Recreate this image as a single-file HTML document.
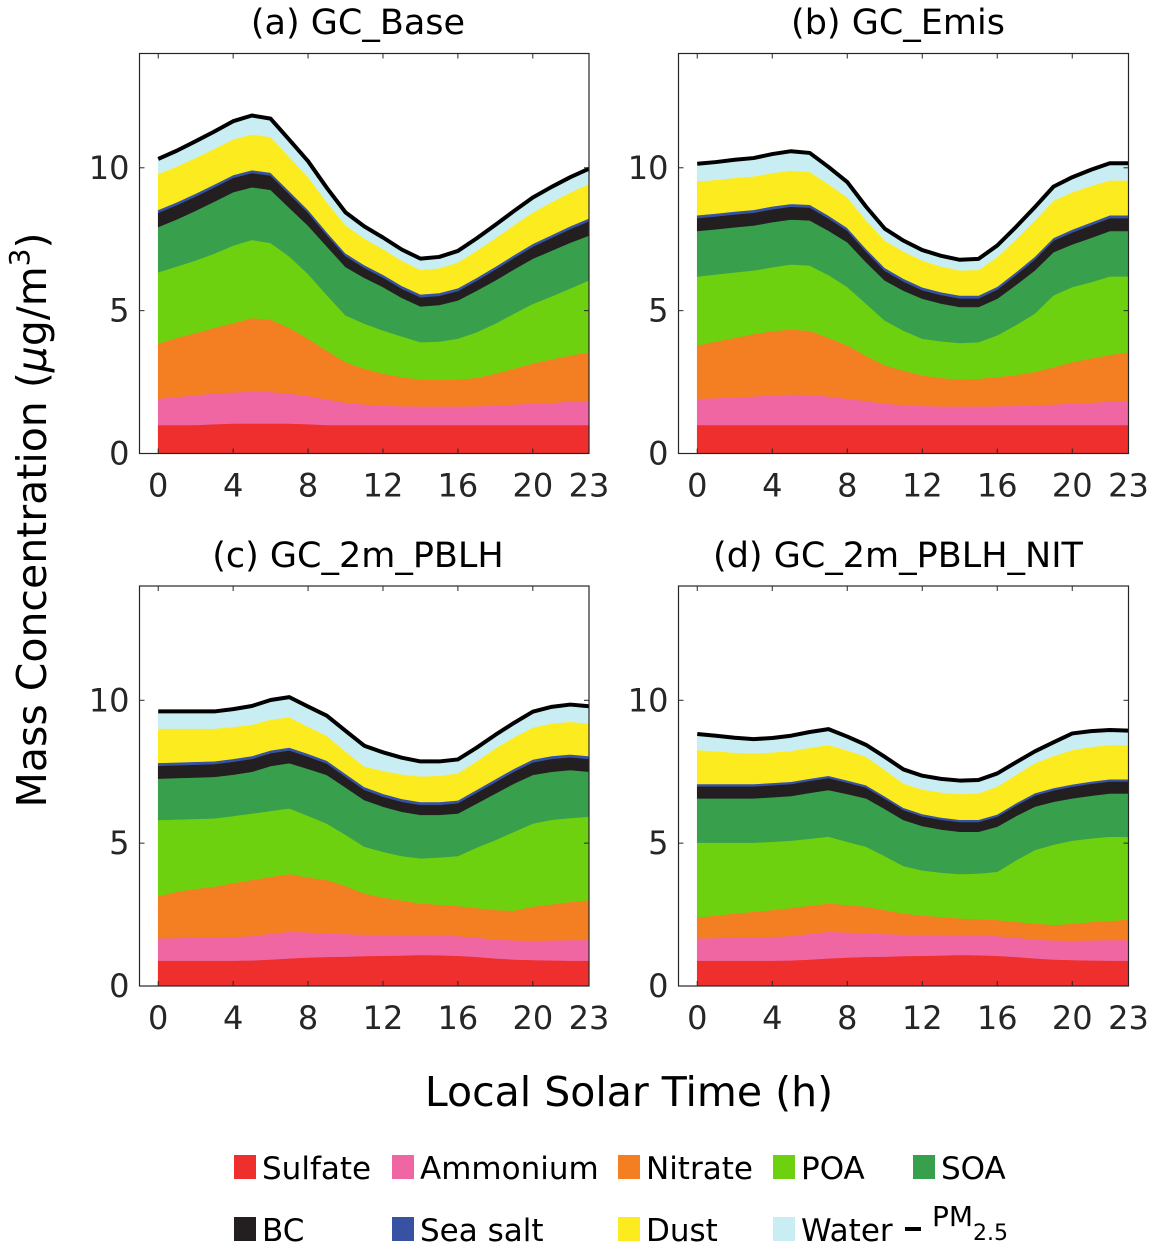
<!DOCTYPE html>
<html><head><meta charset="utf-8">
<style>
html,body{margin:0;padding:0;background:#fff;}
svg{display:block;font-family:"DejaVu Sans","Liberation Sans",sans-serif;}
</style></head>
<body>
<svg id="fig" width="1152" height="1253" viewBox="0 0 1152 1253" xmlns="http://www.w3.org/2000/svg">
<text transform="translate(46,520) rotate(-90)" text-anchor="middle" font-size="41" fill="#000">Mass Concentration (<tspan font-style="italic">μ</tspan>g/m<tspan font-size="28" dy="-17">3</tspan><tspan dy="17">)</tspan></text>
<text x="629" y="1106" text-anchor="middle" font-size="41" fill="#000">Local Solar Time (h)</text>
<g id="legend"></g>
</svg>
<script>
const hours = [0,1,2,3,4,5,6,7,8,9,10,11,12,13,14,15,16,17,18,19,20,21,22,23];
const species = ["Sulfate","Ammonium","Nitrate","POA","SOA","BC","Sea salt","Dust","Water"];
const colors = ["#ee2f2d","#ef66a3","#f47f22","#6ed10f","#38a04d","#231f20","#3752a3","#fcec1f","#c8eef3"];
const xTicks = [0,4,8,12,16,20,23];
const yTicks = [0,5,10];
const panelTitles = ["(a) GC_Base","(b) GC_Emis","(c) GC_2m_PBLH","(d) GC_2m_PBLH_NIT"];

// Panel (a) GC_Base
const aSulfate = [1.0,1.0,1.0,1.03,1.05,1.05,1.05,1.05,1.03,1.0,1.0,1.0,1.0,1.0,1.0,1.0,1.0,1.0,1.0,1.0,1.0,1.0,1.0,1.0];
const aAmmonium = [0.92,0.98,1.05,1.07,1.09,1.12,1.11,1.05,0.99,0.9,0.78,0.72,0.68,0.66,0.65,0.65,0.65,0.66,0.68,0.72,0.75,0.78,0.82,0.86];
const aNitrate = [1.93,2.07,2.17,2.3,2.43,2.57,2.53,2.3,2.0,1.7,1.42,1.25,1.12,1.02,0.94,0.93,0.94,0.99,1.12,1.25,1.4,1.52,1.61,1.69];
const aPOA = [2.5,2.5,2.54,2.6,2.71,2.74,2.68,2.5,2.27,1.95,1.64,1.58,1.51,1.42,1.31,1.34,1.43,1.6,1.75,1.93,2.09,2.2,2.35,2.51];
const aSOA = [1.58,1.65,1.74,1.82,1.87,1.84,1.86,1.7,1.69,1.7,1.69,1.6,1.52,1.35,1.25,1.28,1.34,1.45,1.51,1.55,1.58,1.6,1.6,1.57];
const aBC = [0.5,0.5,0.5,0.5,0.5,0.5,0.5,0.48,0.45,0.4,0.38,0.35,0.33,0.32,0.32,0.32,0.33,0.35,0.38,0.4,0.42,0.45,0.48,0.5];
const aSeaSalt = [0.1,0.1,0.1,0.1,0.1,0.1,0.1,0.1,0.1,0.1,0.1,0.1,0.1,0.1,0.1,0.1,0.1,0.1,0.1,0.1,0.1,0.1,0.1,0.1];
const aDust = [1.26,1.25,1.25,1.25,1.25,1.25,1.25,1.2,1.15,1.05,0.98,0.93,0.9,0.88,0.86,0.87,0.9,0.95,1.0,1.05,1.1,1.15,1.18,1.21];
const aWater = [0.52,0.55,0.58,0.6,0.63,0.66,0.64,0.6,0.55,0.5,0.45,0.42,0.4,0.39,0.39,0.39,0.4,0.43,0.46,0.49,0.52,0.53,0.53,0.53];

// Panel (b) GC_Emis
const bSulfate = [1.0,1.0,1.0,1.0,1.0,1.0,1.0,1.0,1.0,1.0,1.0,1.0,1.0,1.0,1.0,1.0,1.0,1.0,1.0,1.0,1.0,1.0,1.0,1.0];
const bAmmonium = [0.92,0.94,0.97,1.0,1.04,1.07,1.06,1.0,0.92,0.84,0.75,0.7,0.67,0.65,0.65,0.65,0.66,0.67,0.69,0.72,0.75,0.78,0.82,0.86];
const bNitrate = [1.87,1.98,2.08,2.18,2.25,2.27,2.24,2.05,1.87,1.58,1.34,1.2,1.07,1.0,0.94,0.97,1.02,1.08,1.17,1.3,1.45,1.55,1.63,1.69];
const bPOA = [2.41,2.35,2.29,2.23,2.23,2.28,2.28,2.2,2.04,1.83,1.57,1.4,1.28,1.28,1.28,1.28,1.46,1.75,2.04,2.52,2.63,2.67,2.75,2.65];
const bSOA = [1.59,1.58,1.58,1.57,1.58,1.57,1.58,1.55,1.57,1.45,1.4,1.4,1.4,1.32,1.26,1.23,1.28,1.4,1.51,1.51,1.49,1.55,1.59,1.59];
const bBC = [0.45,0.45,0.45,0.45,0.45,0.45,0.45,0.43,0.4,0.37,0.34,0.32,0.3,0.3,0.3,0.3,0.32,0.35,0.38,0.4,0.42,0.44,0.45,0.45];
const bSeaSalt = [0.1,0.1,0.1,0.1,0.1,0.1,0.1,0.1,0.1,0.1,0.1,0.1,0.1,0.1,0.1,0.1,0.1,0.1,0.1,0.1,0.1,0.1,0.1,0.1];
const bDust = [1.19,1.18,1.18,1.17,1.17,1.17,1.15,1.1,1.07,1.0,0.96,0.95,0.94,0.9,0.88,0.9,1.04,1.15,1.27,1.3,1.31,1.28,1.22,1.22];
const bWater = [0.61,0.62,0.63,0.64,0.66,0.67,0.66,0.6,0.53,0.47,0.41,0.38,0.36,0.37,0.37,0.38,0.4,0.43,0.46,0.49,0.52,0.56,0.6,0.6];

// Panel (c) GC_2m_PBLH
const cSulfate = [0.89,0.89,0.89,0.89,0.89,0.9,0.93,0.97,1.0,1.02,1.03,1.05,1.06,1.07,1.09,1.08,1.06,1.02,0.97,0.93,0.91,0.9,0.89,0.89];
const cAmmonium = [0.78,0.79,0.81,0.82,0.83,0.85,0.9,0.93,0.88,0.83,0.79,0.75,0.74,0.72,0.7,0.69,0.69,0.68,0.66,0.67,0.68,0.7,0.72,0.72];
const cNitrate = [1.48,1.62,1.7,1.77,1.88,1.96,1.99,2.02,1.92,1.86,1.68,1.44,1.3,1.21,1.1,1.08,1.05,1.03,1.03,1.04,1.19,1.26,1.33,1.4];
const cPOA = [2.66,2.53,2.45,2.39,2.35,2.33,2.31,2.3,2.16,1.98,1.8,1.64,1.6,1.55,1.58,1.65,1.75,2.12,2.45,2.76,2.91,2.96,2.94,2.92];
const cSOA = [1.45,1.45,1.45,1.45,1.45,1.46,1.57,1.58,1.64,1.7,1.65,1.63,1.58,1.55,1.52,1.49,1.49,1.54,1.63,1.69,1.7,1.68,1.68,1.57];
const cBC = [0.45,0.45,0.45,0.45,0.45,0.45,0.45,0.45,0.43,0.4,0.38,0.36,0.35,0.35,0.35,0.35,0.36,0.38,0.4,0.42,0.44,0.45,0.45,0.45];
const cSeaSalt = [0.1,0.1,0.1,0.1,0.1,0.1,0.1,0.1,0.1,0.1,0.1,0.1,0.1,0.1,0.1,0.1,0.1,0.1,0.1,0.1,0.1,0.1,0.1,0.1];
const cDust = [1.2,1.18,1.16,1.14,1.12,1.1,1.08,1.06,0.95,0.87,0.78,0.72,0.8,0.86,0.9,0.92,0.95,1.0,1.08,1.1,1.12,1.14,1.14,1.14];
const cWater = [0.6,0.6,0.6,0.6,0.62,0.65,0.68,0.7,0.7,0.7,0.72,0.72,0.65,0.58,0.52,0.5,0.48,0.47,0.47,0.5,0.55,0.58,0.6,0.6];

// Panel (d) GC_2m_PBLH_NIT
const dSulfate = [0.89,0.89,0.89,0.89,0.89,0.9,0.93,0.97,1.0,1.02,1.03,1.05,1.06,1.07,1.09,1.08,1.06,1.02,0.97,0.93,0.91,0.9,0.89,0.89];
const dAmmonium = [0.78,0.79,0.81,0.82,0.83,0.85,0.9,0.93,0.88,0.83,0.79,0.75,0.74,0.72,0.7,0.69,0.69,0.68,0.66,0.67,0.68,0.7,0.72,0.72];
const dNitrate = [0.73,0.79,0.84,0.89,0.94,0.98,0.99,0.99,0.96,0.93,0.84,0.74,0.67,0.63,0.58,0.57,0.56,0.55,0.56,0.54,0.59,0.64,0.67,0.72];
const dPOA = [2.62,2.55,2.48,2.42,2.39,2.36,2.34,2.34,2.21,2.1,1.89,1.66,1.58,1.55,1.55,1.6,1.69,2.15,2.57,2.81,2.91,2.93,2.95,2.89];
const dSOA = [1.55,1.55,1.55,1.55,1.56,1.56,1.6,1.63,1.67,1.69,1.65,1.61,1.55,1.51,1.48,1.46,1.58,1.55,1.52,1.5,1.48,1.49,1.51,1.52];
const dBC = [0.42,0.42,0.42,0.42,0.42,0.42,0.42,0.42,0.4,0.38,0.36,0.35,0.34,0.34,0.34,0.34,0.35,0.37,0.39,0.4,0.41,0.42,0.42,0.42];
const dSeaSalt = [0.08,0.08,0.08,0.08,0.08,0.08,0.08,0.08,0.08,0.08,0.08,0.08,0.08,0.08,0.08,0.08,0.08,0.08,0.08,0.08,0.08,0.08,0.08,0.08];
const dDust = [1.19,1.15,1.1,1.07,1.07,1.08,1.08,1.08,1.05,1.0,0.93,0.85,0.86,0.88,0.9,0.93,0.97,1.0,1.05,1.12,1.2,1.21,1.2,1.2];
const dWater = [0.56,0.54,0.52,0.5,0.5,0.53,0.55,0.55,0.48,0.41,0.45,0.49,0.48,0.47,0.47,0.46,0.46,0.43,0.41,0.48,0.58,0.55,0.52,0.5];

const panelData = [
  [aSulfate,aAmmonium,aNitrate,aPOA,aSOA,aBC,aSeaSalt,aDust,aWater],
  [bSulfate,bAmmonium,bNitrate,bPOA,bSOA,bBC,bSeaSalt,bDust,bWater],
  [cSulfate,cAmmonium,cNitrate,cPOA,cSOA,cBC,cSeaSalt,cDust,cWater],
  [dSulfate,dAmmonium,dNitrate,dPOA,dSOA,dBC,dSeaSalt,dDust,dWater]
];

const NS = "http://www.w3.org/2000/svg";
const svg = document.getElementById("fig");
function mk(tag, attrs, parent){
  const e = document.createElementNS(NS, tag);
  for (const k in attrs) e.setAttribute(k, attrs[k]);
  (parent||svg).appendChild(e);
  return e;
}
const boxes = [
  {L:139.5,R:589,T:53.5,B:453.5,cx:358,ty:34},
  {L:678.5,R:1128.5,T:53.5,B:453.5,cx:898,ty:34},
  {L:139.5,R:589,T:586,B:986,cx:358,ty:567},
  {L:678.5,R:1128.5,T:586,B:986,cx:898,ty:567}
];
const XMIN=-1, XMAX=23, YMIN=0, YMAX=14;

panelData.forEach((series, p) => {
  const bx = boxes[p];
  const xs = v => bx.L + (v - XMIN) / (XMAX - XMIN) * (bx.R - bx.L);
  const ys = v => bx.B - (v - YMIN) / (YMAX - YMIN) * (bx.B - bx.T);
  const g = mk("g", {});
  
  
  const title = mk("text", {x:bx.cx, y:bx.ty, "text-anchor":"middle", "font-size":"35", fill:"#000"}, g);
  title.textContent = panelTitles[p];
  
  
  let base = hours.map(() => 0);
  series.forEach((vals, si) => {
    const top = base.map((b, i) => b + vals[i]);
    let d = "M" + hours.map((h, i) => xs(h).toFixed(2) + "," + ys(top[i]).toFixed(2)).join("L");
    for (let i = hours.length - 1; i >= 0; i--) d += "L" + xs(hours[i]).toFixed(2) + "," + ys(base[i]).toFixed(2);
    d += "Z";
    const a = mk("path", {d:d, fill:colors[si], stroke:colors[si], "stroke-width":"0.6"}, g);
    
    
    base = top;
  });
  const pm = mk("polyline", {points: hours.map((h, i) => xs(h).toFixed(2) + "," + ys(base[i]).toFixed(2)).join(" "), fill:"none", stroke:"#000", "stroke-width":"4", "stroke-linejoin":"round"}, g);
  
  
  const frame = mk("rect", {x:bx.L, y:bx.T, width:bx.R - bx.L, height:bx.B - bx.T, fill:"none", stroke:"#262626", "stroke-width":"1.2"}, g);
  
  
  xTicks.forEach(t => {
    const x = xs(t);
    mk("line", {x1:x, x2:x, y1:bx.B, y2:bx.B - 5, stroke:"#262626", "stroke-width":"1"}, g);
    mk("line", {x1:x, x2:x, y1:bx.T, y2:bx.T + 5, stroke:"#262626", "stroke-width":"1"}, g);
    const lb = mk("text", {x:x, y:bx.B + 43, "text-anchor":"middle", "font-size":"32", fill:"#262626"}, g);
    lb.textContent = t;
    
    
  });
  yTicks.forEach(t => {
    const y = ys(t);
    mk("line", {x1:bx.L, x2:bx.L + 5, y1:y, y2:y, stroke:"#262626", "stroke-width":"1"}, g);
    mk("line", {x1:bx.R, x2:bx.R - 5, y1:y, y2:y, stroke:"#262626", "stroke-width":"1"}, g);
    const lb = mk("text", {x:bx.L - 10, y:y + 11, "text-anchor":"end", "font-size":"32", fill:"#262626"}, g);
    lb.textContent = t;
    
    
  });
});

const leg = document.getElementById("legend");
const colX = [234, 392, 618, 773, 913];
const rowY = [1155, 1217];
species.forEach((s, i) => {
  const r = Math.floor(i / 5), c = i % 5;
  const sq = mk("rect", {x:colX[c], y:rowY[r], width:22, height:24, fill:colors[i]}, leg);
  
  
  const t = mk("text", {x:colX[c] + 28, y:rowY[r] + 24, "font-size":"31", fill:"#000"}, leg);
  t.textContent = s;
  
  
});
const pmLine = mk("line", {x1:905, x2:921, y1:1229, y2:1229, stroke:"#000", "stroke-width":"4"}, leg);


const pmt = mk("text", {x:932, y:1226, "font-size":"28", fill:"#000"}, leg);


pmt.innerHTML = 'PM<tspan font-size="22" dy="14">2.5</tspan>';
</script>
</body></html>
